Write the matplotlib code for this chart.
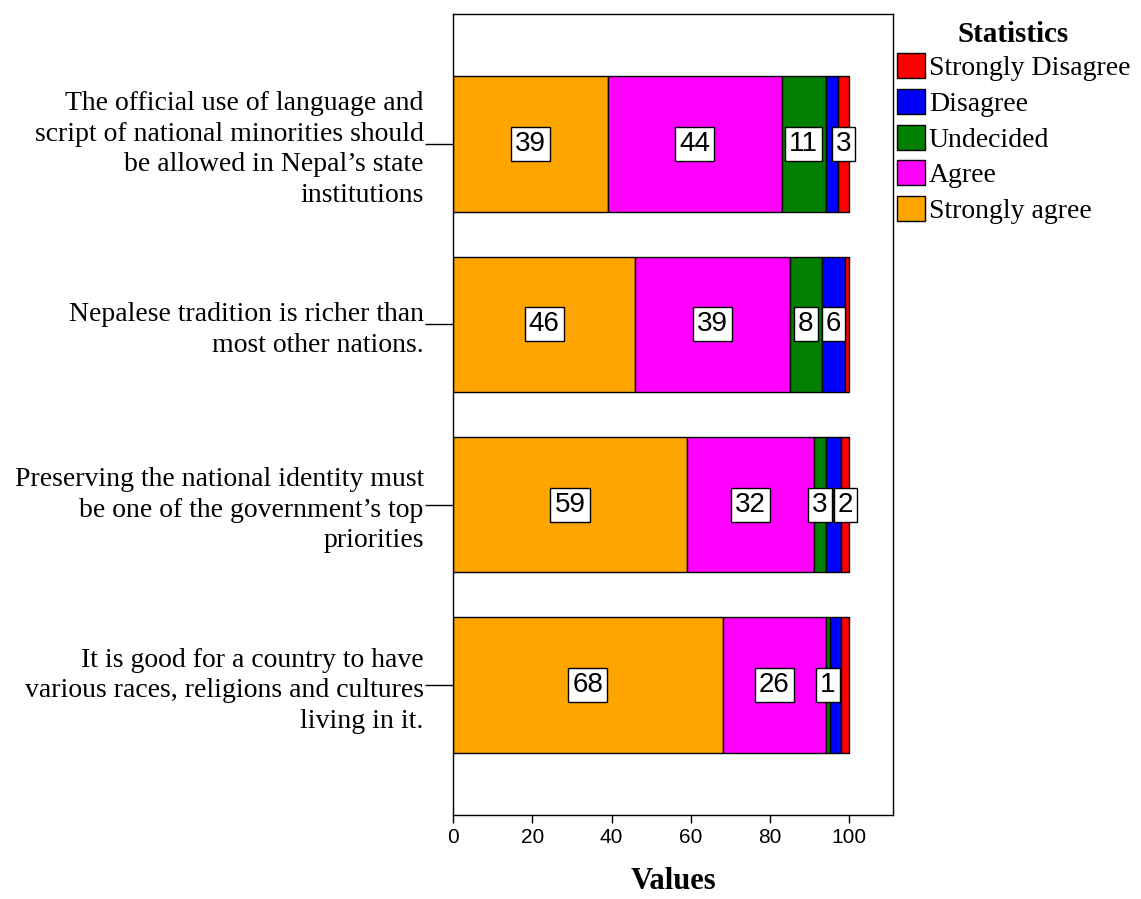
import numpy as np
import matplotlib.pyplot as plt
from matplotlib.patches import Patch

# --- data ---
statements = [
    "The official use of language and\nscript of national minorities should\nbe allowed in Nepal\u2019s state\ninstitutions",
    "Nepalese tradition is richer than\nmost other nations.",
    "Preserving the national identity must\nbe one of the government\u2019s top\npriorities",
    "It is good for a country to have\nvarious races, religions and cultures\nliving in it.",
]
strongly_agree = [39, 46, 59, 68]
agree = [44, 39, 32, 26]
undecided = [11, 8, 3, 1]
disagree = [3, 6, 4, 3]
strongly_disagree = [3, 1, 2, 2]

# which segment labels are printed (small ones get hidden in the original)
show_sa = [True, True, True, True]
show_a = [True, True, True, True]
show_u = [True, True, True, True]
show_d = [False, True, False, False]
show_sd = [True, False, True, False]

series = [
    ("Strongly agree", strongly_agree, "#FFA500", show_sa),
    ("Agree", agree, "#FF00FF", show_a),
    ("Undecided", undecided, "#007F00", show_u),
    ("Disagree", disagree, "#0000FF", show_d),
    ("Strongly Disagree", strongly_disagree, "#FF0000", show_sd),
]

serif = "Liberation Serif"
sans = "Liberation Sans"

fig = plt.figure(figsize=(11.41, 8.99), dpi=100)
ax = fig.add_axes([453 / 1141, 1 - 815 / 899, 440 / 1141, 801 / 899])

y = np.arange(len(statements))
left = np.zeros(len(statements))
for name, vals, color, show in series:
    vals = np.array(vals, dtype=float)
    ax.barh(y, vals, left=left, height=0.75, color=color,
            edgecolor="black", linewidth=1.0)
    for yi, (l, v, s) in enumerate(zip(left, vals, show)):
        if s:
            ax.text(l + v / 2, yi, f"{int(round(v))}", ha="center", va="center",
                    fontsize=20, family=sans,
                    bbox=dict(boxstyle="square,pad=0.15", fc="white",
                              ec="black", lw=1.0))
    left += vals

ax.set_xlim(0, 111)
ax.set_ylim(len(statements) - 0.28, -0.72)
ax.set_xticks([0, 20, 40, 60, 80, 100])
ax.set_yticks(y)
ax.set_yticklabels(statements, family=serif, fontsize=20, ha="right",
                   linespacing=1.29)
ax.tick_params(axis="y", length=20, width=1, pad=1)
ax.tick_params(axis="x", length=6, width=1, labelsize=15)
for lbl in ax.get_xticklabels():
    lbl.set_family(sans)
for sp in ax.spines.values():
    sp.set_linewidth(1.0)
    sp.set_color("black")

ax.set_xlabel("Values", family=serif, fontsize=22, fontweight="bold",
              labelpad=14)

handles = [Patch(facecolor=c, edgecolor="black", label=n)
           for n, _, c, _ in series[::-1]]
leg = fig.legend(handles=handles, loc="upper left",
                 bbox_to_anchor=(894 / 1141, 1 - 18 / 899),
                 frameon=False, prop={"family": serif, "size": 20},
                 title="Statistics",
                 title_fontproperties={"family": serif, "size": 21, "weight": "bold"},
                 handlelength=1.0, handleheight=1.0, handletextpad=0.15,
                 labelspacing=0.28, borderaxespad=0.0, borderpad=0.1)
leg._legend_box.sep = 4

fig.savefig("out.png", dpi=100)
